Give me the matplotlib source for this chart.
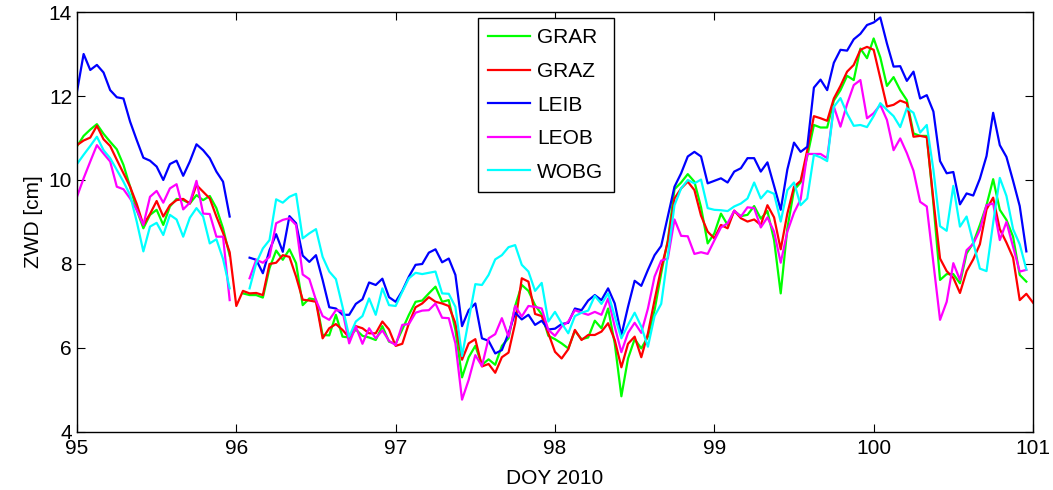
import numpy as np
import matplotlib
matplotlib.use("Agg")
import matplotlib.pyplot as plt

nan = np.nan
hours = np.arange(145)
doy = 95 + hours / 24.0

GRAR = [10.8, 11.05, 11.2, 11.33, 11.1, 10.91, 10.73, 10.36, 9.84, 9.29, 8.85, 9.17, 9.29, 8.93, 9.37, 9.55, 9.52, 9.44, 9.64, 9.52, 9.62, 9.33, 8.85, 8.2,
        nan, 7.3, 7.26, 7.26, 7.2, 7.9, 8.32, 8.1, 8.35, 8.02, 7.02, 7.18, 7.15, 6.31, 6.3, 6.79, 6.27, 6.25, 6.44, 6.29, 6.25, 6.19, 6.52, 6.15,
        6.1, 6.44, 6.79, 7.1, 7.13, 7.3, 7.46, 7.1, 7.14, 6.43, 5.3, 5.78, 6.05, 5.6, 5.73, 5.6, 6.05, 6.23, 7.0, 7.5, 7.36, 7.02, 6.8, 6.29,
        6.21, 6.11, 5.99, 6.41, 6.21, 6.25, 6.65, 6.47, 6.94, 6.11, 4.85, 5.75, 6.21, 5.99, 6.27, 6.9, 7.78, 8.57, 9.78, 9.94, 10.14, 9.96, 9.35, 8.49,
        8.73, 9.2, 8.93, 9.26, 9.14, 9.17, 9.38, 9.08, 9.26, 8.57, 7.3, 8.85, 9.76, 9.94, 10.56, 11.31, 11.25, 11.25, 11.89, 12.14, 12.48, 12.38, 13.13, 12.9,
        13.37, 12.92, 12.24, 12.45, 12.14, 11.9, 11.11, 11.05, 11.05, 9.44, 7.62, 7.76, 7.76, 7.54, 8.25, 8.5, 8.93, 9.4, 10.02, 9.29, 9.05, 8.65, 7.74, 7.58,
        nan]
GRAZ = [10.83, 10.94, 11.01, 11.29, 10.97, 10.81, 10.48, 10.16, 9.84, 9.43, 8.93, 9.19, 9.5, 9.13, 9.4, 9.52, 9.55, 9.44, 9.88, 9.72, 9.56, 9.13, 8.74, 8.28,
        7.0, 7.36, 7.3, 7.31, 7.26, 8.0, 8.03, 8.21, 8.17, 7.7, 7.15, 7.13, 7.1, 6.23, 6.47, 6.57, 6.43, 6.25, 6.52, 6.47, 6.35, 6.35, 6.63, 6.44,
        6.05, 6.1, 6.59, 6.97, 7.06, 7.21, 7.1, 7.06, 7.0, 6.59, 5.72, 6.11, 6.21, 5.56, 5.62, 5.41, 5.78, 5.89, 6.59, 7.66, 7.58, 6.81, 6.76, 6.35,
        5.91, 5.75, 5.97, 6.43, 6.19, 6.31, 6.31, 6.39, 6.59, 6.19, 5.54, 6.1, 6.27, 5.78, 6.35, 7.14, 7.9, 8.53, 9.56, 9.8, 9.96, 9.76, 9.15, 8.77,
        8.61, 8.93, 8.85, 9.27, 9.09, 9.01, 9.06, 8.93, 9.4, 9.11, 8.35, 9.2, 9.84, 9.98, 10.71, 11.52, 11.47, 11.41, 11.94, 12.24, 12.58, 12.74, 13.1, 13.17,
        13.1, 12.42, 11.75, 11.79, 11.89, 11.83, 11.03, 11.05, 11.02, 9.52, 8.13, 7.83, 7.67, 7.31, 7.83, 8.11, 8.47, 9.3, 9.58, 8.83, 8.51, 8.15, 7.14, 7.29,
        7.08]
LEIB = [12.1, 13.0, 12.62, 12.74, 12.56, 12.14, 11.97, 11.94, 11.39, 10.95, 10.53, 10.46, 10.32, 10.0, 10.38, 10.46, 10.1, 10.44, 10.85, 10.71, 10.52, 10.2, 9.96, 9.13,
        nan, nan, 8.15, 8.1, 7.78, 8.33, 8.71, 8.29, 9.14, 8.97, 8.2, 8.05, 8.21, 7.62, 6.97, 6.94, 6.79, 6.79, 7.05, 7.16, 7.56, 7.5, 7.65, 7.21,
        7.1, 7.36, 7.7, 7.98, 8.0, 8.27, 8.35, 8.04, 8.13, 7.74, 6.52, 6.9, 7.06, 6.23, 6.17, 5.87, 5.95, 6.35, 6.84, 6.68, 6.79, 6.55, 6.65, 6.44,
        6.46, 6.57, 6.6, 6.94, 6.9, 7.13, 7.26, 7.14, 7.42, 7.06, 6.3, 6.98, 7.6, 7.48, 7.86, 8.21, 8.43, 9.14, 9.84, 10.16, 10.56, 10.67, 10.56, 9.92,
        9.98, 10.04, 9.94, 10.2, 10.28, 10.52, 10.52, 10.2, 10.42, 9.86, 9.29, 10.25, 10.89, 10.67, 10.79, 12.2, 12.39, 12.14, 12.79, 13.1, 13.08, 13.35, 13.48, 13.69,
        13.75, 13.87, 13.25, 12.7, 12.71, 12.36, 12.58, 11.94, 12.02, 11.63, 10.45, 10.16, 10.19, 9.42, 9.68, 9.63, 10.03, 10.57, 11.6, 10.83, 10.55, 9.98, 9.38, 8.3,
        nan]
LEOB = [9.6, 10.04, 10.44, 10.83, 10.63, 10.44, 9.84, 9.78, 9.56, 9.29, 8.93, 9.6, 9.74, 9.46, 9.8, 9.9, 9.3, 9.46, 9.98, 9.2, 9.19, 8.65, 8.65, 7.14,
        nan, nan, 7.66, 8.1, 8.03, 8.17, 8.97, 9.05, 9.09, 8.93, 7.75, 7.64, 7.14, 6.76, 6.67, 6.9, 6.88, 6.11, 6.51, 6.1, 6.47, 6.23, 6.42, 6.17,
        6.07, 6.55, 6.57, 6.84, 6.89, 6.9, 7.06, 6.72, 6.71, 6.11, 4.77, 5.24, 5.83, 5.57, 6.23, 6.33, 6.71, 6.27, 7.0, 6.75, 7.0, 6.98, 6.94, 6.43,
        6.29, 6.51, 6.63, 6.9, 6.84, 6.79, 6.86, 6.79, 7.18, 6.51, 5.9, 6.36, 6.6, 6.36, 6.94, 7.7, 8.08, 8.13, 9.06, 8.67, 8.66, 8.24, 8.28, 8.24,
        8.56, 8.87, 8.97, 9.27, 9.13, 9.35, 9.33, 8.87, 9.11, 8.77, 8.03, 8.77, 9.22, 9.54, 10.62, 10.62, 10.62, 10.52, 11.75, 11.27, 11.81, 12.26, 12.38, 11.47,
        11.59, 11.79, 11.43, 10.71, 10.99, 10.64, 10.22, 9.48, 9.37, 8.02, 6.67, 7.1, 8.02, 7.62, 8.33, 8.48, 8.81, 9.4, 9.44, 8.57, 9.0, 8.41, 7.82, 7.86,
        nan]
WOBG = [10.38, 10.6, 10.81, 11.03, 10.71, 10.52, 10.24, 9.96, 9.64, 9.01, 8.3, 8.89, 8.98, 8.69, 9.17, 9.06, 8.65, 9.1, 9.33, 9.13, 8.49, 8.59, 8.12, 7.42,
        nan, nan, 7.42, 8.02, 8.37, 8.57, 9.54, 9.46, 9.6, 9.67, 8.61, 8.73, 8.83, 8.17, 7.82, 7.64, 6.98, 6.27, 6.63, 6.76, 7.18, 6.79, 7.42, 7.02,
        7.0, 7.34, 7.66, 7.79, 7.76, 7.79, 7.82, 7.3, 7.29, 6.98, 5.81, 6.67, 7.52, 7.5, 7.74, 8.11, 8.21, 8.4, 8.45, 7.98, 7.82, 7.36, 7.55, 6.63,
        6.86, 6.59, 6.35, 6.76, 6.84, 6.89, 7.24, 7.05, 7.3, 6.75, 6.23, 6.55, 6.84, 6.51, 6.03, 6.76, 7.05, 8.21, 9.4, 9.8, 10.0, 9.92, 10.01, 9.33,
        9.29, 9.28, 9.26, 9.37, 9.44, 9.56, 9.94, 9.56, 9.74, 9.67, 9.01, 9.76, 9.94, 9.4, 9.56, 10.6, 10.54, 10.45, 11.74, 11.95, 11.58, 11.29, 11.31, 11.26,
        11.52, 11.83, 11.67, 11.52, 11.26, 11.71, 11.6, 11.13, 11.31, 10.24, 8.9, 8.79, 9.86, 8.89, 9.13, 8.51, 7.89, 7.83, 8.98, 10.05, 9.62, 8.83, 8.47, 7.87,
        nan]

series = [("GRAR", GRAR, "#00ff00"), ("GRAZ", GRAZ, "#ff0000"), ("LEIB", LEIB, "#0000ff"),
          ("LEOB", LEOB, "#ff00ff"), ("WOBG", WOBG, "#00ffff")]

plt.rcParams['font.family'] = ['Liberation Sans', 'DejaVu Sans']

fig = plt.figure(figsize=(10.53, 4.90), dpi=100)
ax = fig.add_axes([0.0731, 0.1184, 0.9079, 0.8571])
for name, vals, col in series:
    ax.plot(doy, vals, color=col, lw=1.6, label=name)

ax.set_xlim(95, 101)
ax.set_ylim(4, 14)
ax.set_xticks([95, 96, 97, 98, 99, 100, 101])
ax.set_yticks([4, 6, 8, 10, 12, 14])
ax.tick_params(direction='in', top=True, right=True, length=6, labelsize=15, width=0.8)
ax.tick_params(axis='x', pad=5)
for s in ax.spines.values():
    s.set_linewidth(1.0)
ax.set_xlabel("DOY 2010", fontsize=15, labelpad=8)
ax.set_ylabel("ZWD [cm]", fontsize=15, labelpad=4)

leg = ax.legend(loc='upper left', bbox_to_anchor=(0.4195, 0.9857), borderaxespad=0,
                fontsize=15, frameon=True, fancybox=False, edgecolor='black', framealpha=1,
                handlelength=2.0, labelspacing=0.7, borderpad=0.5, handletextpad=0.35)
leg.get_frame().set_linewidth(1.0)

fig.savefig("out.png", dpi=100)
